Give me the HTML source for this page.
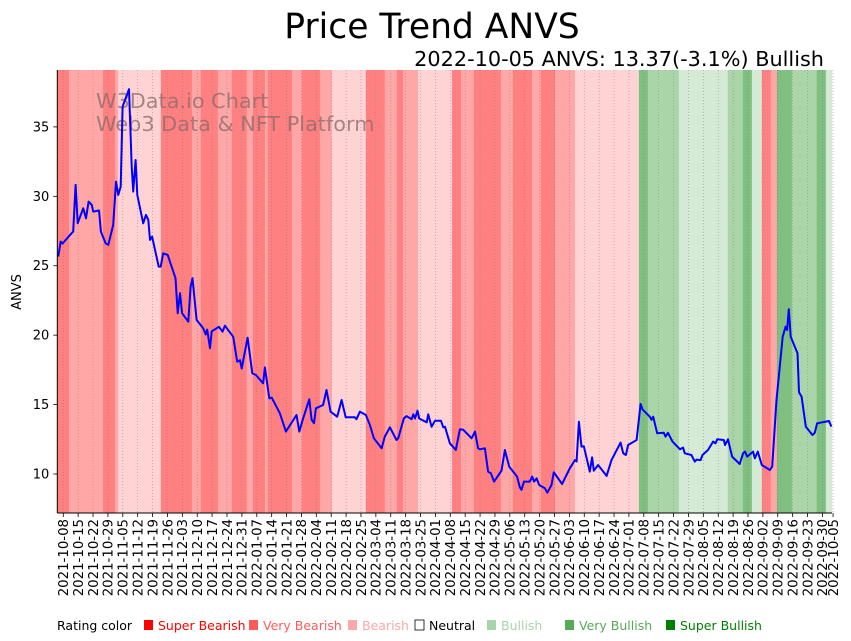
<!DOCTYPE html>
<html><head><meta charset="utf-8">
<style>
html,body{margin:0;padding:0;background:#fff;}
svg{display:block;font-family:"DejaVu Sans","Liberation Sans",sans-serif;}
</style></head>
<body>
<svg id="chart" width="851" height="641" viewBox="0 0 851 641" xmlns="http://www.w3.org/2000/svg">
  <text x="432" y="38" text-anchor="middle" font-size="34.5" fill="#000">Price Trend ANVS</text>
  <text x="824" y="66" text-anchor="end" font-size="20.8" fill="#000">2022-10-05 ANVS: 13.37(-3.1%) Bullish</text>
  <g id="bands"></g>
  <g id="grid"></g>
  <text x="96" y="108" font-size="20.8" fill="#8a6a6a" fill-opacity="0.75">W3Data.io Chart</text>
  <text x="96" y="131" font-size="20.8" fill="#8a6a6a" fill-opacity="0.75">Web3 Data &amp; NFT Platform</text>
  <path id="line" fill="none" stroke="#0000ff" stroke-width="2" stroke-linejoin="round"></path>
  <g id="axes"></g>
  <text transform="translate(21,292) rotate(-90)" text-anchor="middle" font-size="13">ANVS</text>
  <g id="legend"></g>
</svg>
<script>
// ---- data ----
const seriesDays = [-2.4,-1.2,-0.3,3.9,4.7,5.8,6.8,9.4,10.7,11.9,13.4,14.1,16.8,17.7,19.9,21.2,23.5,24.8,25.9,27.0,27.9,30.9,32.2,32.9,34.0,34.8,37.6,38.9,40.0,40.8,41.8,44.9,45.8,47.0,49.1,52.8,53.8,54.9,55.9,58.8,59.9,60.8,62.7,65.8,67.0,67.7,69.0,69.8,73.2,74.9,76.0,79.9,81.8,83.1,83.9,86.7,88.9,90.6,94.0,94.8,96.9,98.0,101.9,104.7,109.7,111.0,112.6,115.7,116.8,117.9,118.8,122.2,123.8,125.7,128.8,130.9,132.8,137.1,137.9,139.5,142.3,144.2,146.1,149.7,151.2,153.6,156.7,157.5,160.2,161.4,163.8,164.6,165.4,166.6,167.4,170.9,171.6,173.2,174.8,177.6,178.7,179.5,181.8,184.6,186.5,188.1,192.0,193.6,195.1,195.9,198.3,199.8,201.1,202.6,206.1,207.7,209.7,213.4,214.7,215.5,216.6,219.4,220.5,221.4,222.6,223.8,226.5,227.6,229.6,230.7,234.6,238.2,240.6,241.4,242.5,243.7,244.8,247.6,248.7,249.5,251.5,255.5,257.8,262.1,263.3,264.6,265.6,269.6,271.5,272.4,275.8,276.6,277.4,279.3,282.4,283.2,284.4,286.5,290.0,291.5,292.3,295.4,297.0,297.8,299.7,300.6,303.2,305.6,306.7,307.5,310.6,311.2,312.6,314.5,318.1,319.7,320.6,321.6,324.4,325.2,326.6,328.5,332.3,333.4,335.4,338.3,339.7,340.4,341.2,342.1,345.3,346.0,347.2,349.2,352.3,353.4,354.5,360.1,361.2];
const seriesPrices = [25.66,26.74,26.6,27.34,27.46,30.82,28.06,29.14,28.42,29.62,29.38,28.9,28.98,27.46,26.62,26.5,27.94,31.06,30.1,30.7,36.46,37.72,32.14,30.34,32.62,30.1,28.06,28.66,28.3,26.86,27.1,24.94,24.94,25.9,25.78,24.1,21.58,23.02,21.58,20.97,23.5,24.1,21.1,20.5,20.05,20.4,19.06,20.27,20.6,20.25,20.68,19.89,18.09,18.2,17.6,19.82,17.25,17.13,16.53,17.68,15.45,15.5,14.37,13.05,14.25,13.05,13.9,15.38,13.9,13.66,14.73,14.97,16.05,14.49,14.13,15.33,14.08,14.08,13.95,14.49,14.25,13.53,12.57,11.85,12.69,13.36,12.45,12.57,14.01,14.17,13.95,14.3,14.0,14.56,14.0,13.72,14.3,13.4,13.84,13.84,13.36,13.4,12.21,11.73,13.22,13.18,12.57,13.05,11.85,11.78,11.85,10.17,10.05,9.45,10.24,11.73,10.53,9.81,9.04,8.86,9.45,9.45,9.81,9.45,9.69,9.21,8.97,8.65,9.21,10.12,9.28,10.41,11.0,10.9,13.77,11.97,12.0,10.17,11.2,10.24,10.65,9.86,11.0,12.26,11.49,11.37,12.09,12.45,15.04,14.65,14.13,13.9,14.13,12.93,12.97,12.69,12.97,12.33,11.78,11.9,11.49,11.37,10.89,11.04,11.0,11.37,11.73,12.33,12.21,12.5,12.45,12.09,12.5,11.25,10.72,11.49,11.61,11.25,11.61,11.13,11.61,10.65,10.29,10.53,15.33,19.89,20.61,20.37,21.87,19.89,18.7,15.89,15.57,13.41,12.81,12.97,13.65,13.82,13.41];
const bandStarts = [-3,2.7,18.7,24.3,25.7,45.9,60.5,64.7,72.7,79.3,86.3,89.2,94.8,96.2,107.5,112.2,120.7,126.3,142.3,151.2,156.9,159.7,166.8,182.8,187,193.1,205.8,211.4,220.4,224.6,231.2,240.6,270.7,274.9,289.5,312.5,319.6,323.8,328.5,332.7,335.6,342.6,354.3,358.6];
const bandRatings = [-3,-2,-3,-2,-1,-3,-2,-3,-2,-3,-2,-3,-2,-3,-2,-3,-2,-1,-3,-2,-3,-2,-1,-3,-2,-3,-2,-3,-2,-3,-2,-1,3,2,1,2,3,1,-3,-2,3,2,3,1];
const yTicks = [10,15,20,25,30,35];
const xTickLabels = ["2021-10-08","2021-10-15","2021-10-22","2021-10-29","2021-11-05","2021-11-12","2021-11-19","2021-11-26","2021-12-03","2021-12-10","2021-12-17","2021-12-24","2021-12-31","2022-01-07","2022-01-14","2022-01-21","2022-01-28","2022-02-04","2022-02-11","2022-02-18","2022-02-25","2022-03-04","2022-03-11","2022-03-18","2022-03-25","2022-04-01","2022-04-08","2022-04-15","2022-04-22","2022-04-29","2022-05-06","2022-05-13","2022-05-20","2022-05-27","2022-06-03","2022-06-10","2022-06-17","2022-06-24","2022-07-01","2022-07-08","2022-07-15","2022-07-22","2022-07-29","2022-08-05","2022-08-12","2022-08-19","2022-08-26","2022-09-02","2022-09-09","2022-09-16","2022-09-23","2022-09-30","2022-10-05"];
const xTickDays = [0,7,14,21,28,35,42,49,56,63,70,77,84,91,98,105,112,119,126,133,140,147,154,161,168,175,182,189,196,203,210,217,224,231,238,245,252,259,266,273,280,287,294,301,308,315,322,329,336,343,350,357,362];
const legendLabels = ["Super Bearish","Very Bearish","Bearish","Neutral","Bullish","Very Bullish","Super Bullish"];
const legendColors = ["#ff0000","#ff5a5a","#ffa8a8","#ffffff","#a8d5a8","#55aa55","#008000"];

// ---- layout ----
const L=57.3,R=832,T=70,B=513;
const D0=-2.8,D1=361.5,V0=7.19,V1=39.1;
const xS=d=>L+(d-D0)/(D1-D0)*(R-L);
const yS=v=>B-(v-V0)/(V1-V0)*(B-T);
const bandColor={"-3":"#ff8080","-2":"#ffa6a6","-1":"#ffd3d3","0":"#ffffff","1":"#d5ead5","2":"#a9d5a9","3":"#7fbf7f"};
const NS="http://www.w3.org/2000/svg";
function mk(tag,attrs,parent){const e=document.createElementNS(NS,tag);for(const k in attrs)e.setAttribute(k,attrs[k]);parent.appendChild(e);return e;}

const bands=document.getElementById('bands');
for(let i=0;i<bandStarts.length;i++){
  const s=Math.max(bandStarts[i],D0), e=i+1<bandStarts.length?bandStarts[i+1]:D1;
  const r=mk('rect',{x:xS(s),y:T,width:xS(e)-xS(s)+0.3,height:B-T,fill:bandColor[bandRatings[i]]},bands);
  
  
}
const grid=document.getElementById('grid');
const axes=document.getElementById('axes');
for(let i=0;i<xTickDays.length;i++){
  const x=xS(xTickDays[i]);
  const g=mk('line',{x1:x,x2:x,y1:T,y2:B,stroke:'#777',"stroke-opacity":0.7,"stroke-width":0.6,"stroke-dasharray":"1,2"},grid);
  
  
  mk('line',{x1:x,x2:x,y1:B,y2:B+4,stroke:'#000',"stroke-width":0.8},axes);
  const t=mk('text',{transform:`translate(${x+4.8},${B+6}) rotate(-90)`,"text-anchor":"end","font-size":13.3},axes);
  t.textContent=xTickLabels[i];
  
  
}
for(const v of yTicks){
  const y=yS(v);
  mk('line',{x1:L-4,x2:L,y1:y,y2:y,stroke:'#000',"stroke-width":0.8},axes);
  const t=mk('text',{x:L-8,y:y+4.5,"text-anchor":"end","font-size":13},axes);
  t.textContent=v;
  
  
}
mk('line',{x1:L,x2:L,y1:T,y2:B,stroke:'#000',"stroke-width":1},axes);
mk('line',{x1:L,x2:R,y1:B,y2:B,stroke:'#000',"stroke-width":1},axes);

let dstr='';
for(let i=0;i<seriesDays.length;i++){dstr+=(i?'L':'M')+xS(seriesDays[i]).toFixed(1)+','+yS(seriesPrices[i]).toFixed(1);}
document.getElementById('line').setAttribute('d',dstr);

const lg=document.getElementById('legend');
const lt=mk('text',{x:57,y:630,"font-size":12.5,fill:'#000'},lg);
lt.textContent='Rating color';


const lx=[144,249,348,415,487,565,666];
for(let i=0;i<legendLabels.length;i++){
  const sq=mk('rect',{x:lx[i],y:620,width:9,height:10,fill:legendColors[i],stroke:i==3?'#000':'none',"stroke-width":0.8},lg);
  
  
  const t=mk('text',{x:lx[i]+14,y:630,"font-size":12.5,fill:i==3?'#000':legendColors[i]},lg);
  t.textContent=legendLabels[i];
  
  
}
</script>
</body></html>
